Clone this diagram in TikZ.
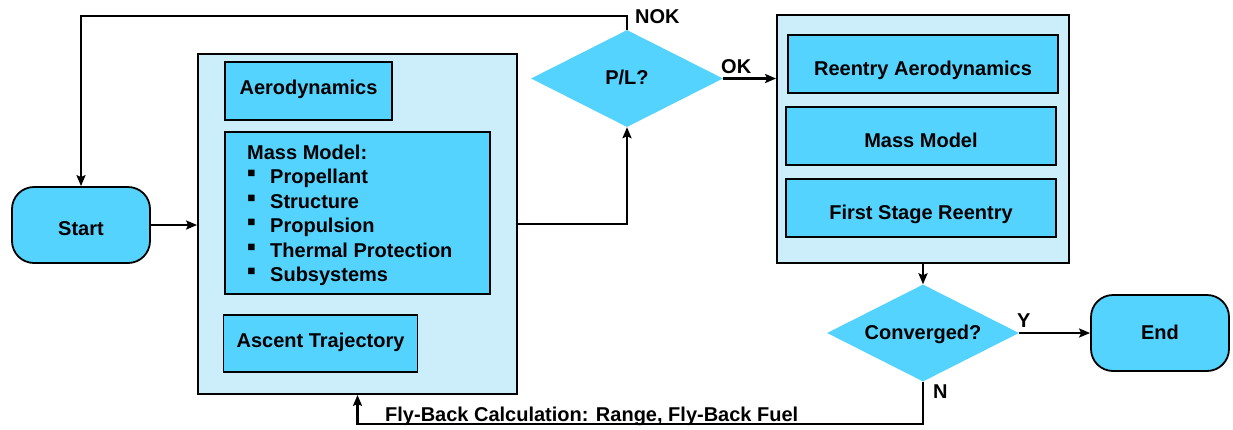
\documentclass[tikz,border=0pt]{standalone}
\usepackage{fontspec}
\setmainfont{Liberation Sans}
\usetikzlibrary{shapes.geometric,arrows.meta}
\definecolor{boxblue}{RGB}{85,211,255}
\definecolor{paleblue}{RGB}{204,238,250}
\tikzset{
  every node/.style={font=\fontsize{20}{24}\selectfont\bfseries, inner sep=0pt, text depth=0pt, text height=14.3pt},
  outerbox/.style={rectangle, draw=black, fill=paleblue, line width=1.8pt},
  innerbox/.style={rectangle, draw=black, fill=boxblue, line width=1.8pt},
  term/.style={rectangle, rounded corners=22pt, draw=black, fill=boxblue, line width=1.8pt, minimum width=138pt, minimum height=76pt},
  decision/.style={diamond, aspect=2, fill=boxblue, minimum width=192pt, minimum height=97pt},
  conn/.style={line width=2.4pt, -{Stealth[length=11pt,width=9pt,inset=2pt]}},
  lab/.style={anchor=west}
}
\begin{document}
\begin{tikzpicture}[x=1pt,y=-1pt]
\useasboundingbox (0,0) rectangle (1233,429);
% terminals
\node[term, text height=21.3pt] (start) at (81,225) {Start};
\node[term, text height=12.3pt] (end) at (1160,333) {End};
% left container
\node[outerbox, minimum width=319pt, minimum height=340pt] (leftc) at (357.5,224) {};
\node[innerbox, minimum width=167pt, minimum height=58pt, text height=7.3pt] (aero) at (308.5,91) {Aerodynamics};
\node[innerbox, minimum width=265pt, minimum height=162pt] (mass) at (357.5,213) {};
\node[anchor=base west] (mtitle) at (247,159.2) {Mass Model:};
\foreach \t [count=\i] in {Propellant,Structure,Propulsion,Thermal Protection,Subsystems}{
  \node[anchor=base west] (mline\i) at (270,{159.2+24.5*\i}) {\t};
  \node[anchor=center, text height=0pt] (mbul\i) at (251.5,{152+24.5*\i}) {\raisebox{-0.5ex}{\scalebox{1.3}{▪}}};
}
\node[innerbox, minimum width=194pt, minimum height=57pt, text height=7.3pt] (ascent) at (320.5,343.5) {Ascent Trajectory};
% decision P/L
\node[decision, text height=12.3pt] (pl) at (627,78.5) {P/L?};
% right container
\node[outerbox, minimum width=292pt, minimum height=248pt] (rightc) at (923,139) {};
\node[innerbox, minimum width=270pt, minimum height=58pt, text height=22.3pt] (ra) at (923,64) {Reentry Aerodynamics};
\node[innerbox, minimum width=270pt, minimum height=58pt, text height=22.3pt] (rm) at (921,136) {Mass Model};
\node[innerbox, minimum width=270pt, minimum height=58pt, text height=22.3pt] (rf) at (921,208) {First Stage Reentry};
% decision converged
\node[decision, text height=12.3pt] (conv) at (923,333) {Converged?};
% connectors
\draw[conn] (pl.north) -- ++(0,-14) coordinate (nokc) -| (start.north);
\draw[conn] (start.east) -- (start.east -| leftc.west);
\draw[conn] (leftc.east) -| (pl.south);
\draw[conn] (pl.east) -- (pl.east -| rightc.west);
\draw[conn] (rightc.south) -- (conv.north);
\draw[conn] (conv.east) -- (end.west);
\draw[conn] (conv.south) -- ++(0,42) coordinate (nc) -| (leftc.south);
% labels
\node[lab] (nok) at (635,16.5) {NOK};
\node[lab] (ok) at (721,66) {OK};
\node[lab] (ylab) at (1017,320.5) {Y};
\node[lab] (nlab) at (933,391) {N};
\node[lab] (fly) at (385,414.5) {Fly-Back Calculation: Range, Fly-Back Fuel};
\end{tikzpicture}
\end{document}
